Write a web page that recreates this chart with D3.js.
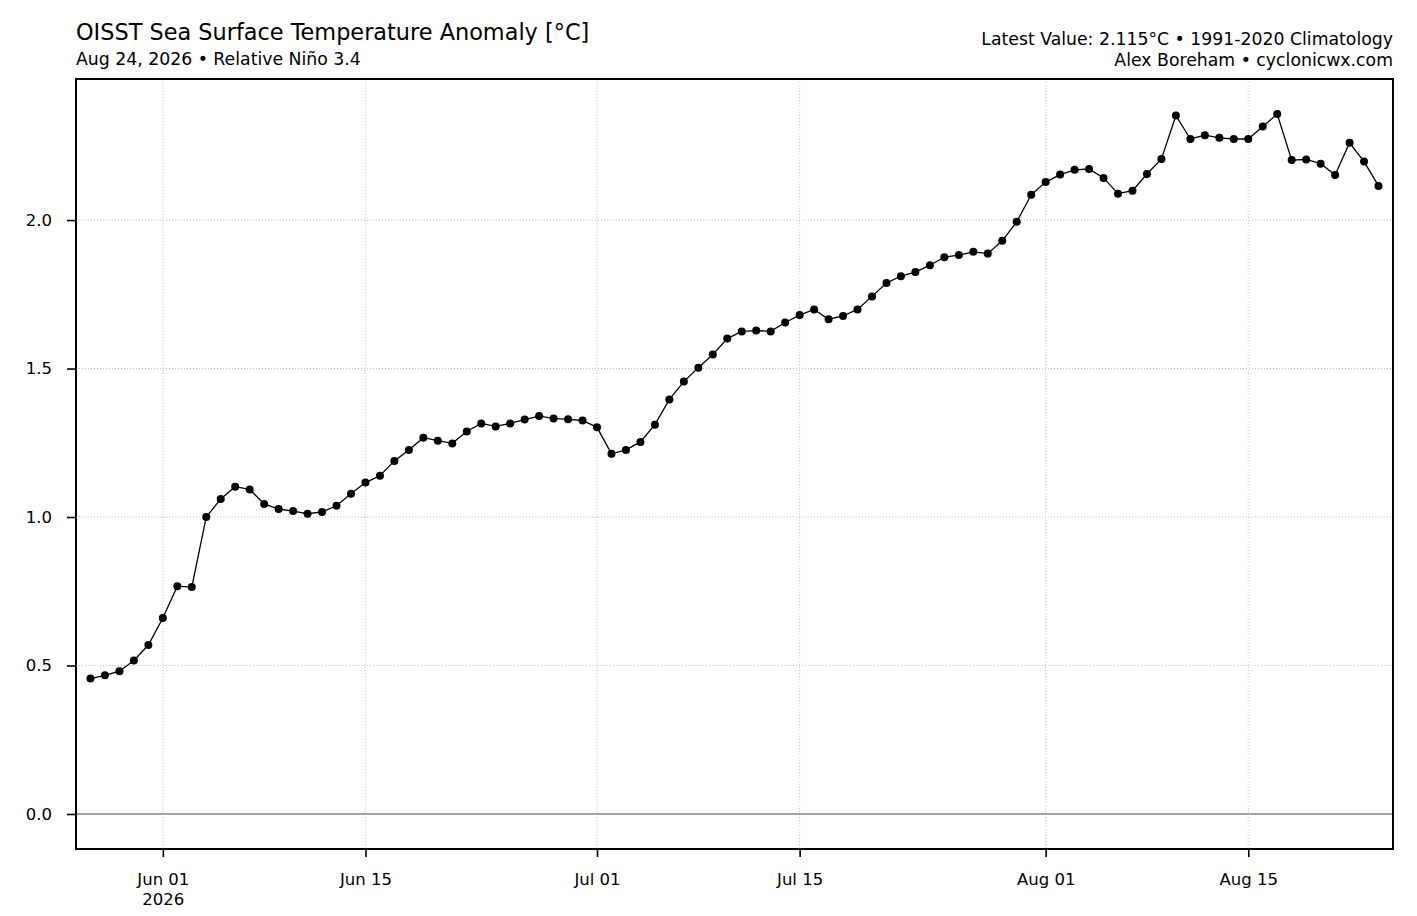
<!DOCTYPE html>
<html>
<head>
<meta charset="utf-8">
<script src="https://cdn.jsdelivr.net/npm/d3@7/dist/d3.min.js"></script>
<style>
	html, body { margin: 0; padding: 0; background: #fff; }
	svg { display: block; font-family: "DejaVu Sans", sans-serif; }
</style>
</head>
<body>
<div id="chart"></div>
<script>

// daily relative Niño 3.4 anomaly, starting May 27 2026
const START_DATE = '2026-05-27';
const ANOMALY = [
	0.456, 0.467, 0.481, 0.517, 0.569, 0.660, 0.767, 0.764, 1.000, 1.061,
	1.102, 1.093, 1.044, 1.027, 1.020, 1.011, 1.017, 1.038, 1.078, 1.116,
	1.139, 1.189, 1.226, 1.267, 1.257, 1.248, 1.288, 1.315, 1.305, 1.315,
	1.328, 1.340, 1.332, 1.329, 1.325, 1.302, 1.213, 1.226, 1.253, 1.311,
	1.396, 1.456, 1.503, 1.547, 1.601, 1.625, 1.628, 1.625, 1.655, 1.680,
	1.699, 1.666, 1.677, 1.699, 1.743, 1.788, 1.811, 1.825, 1.848, 1.875,
	1.882, 1.893, 1.887, 1.930, 1.994, 2.085, 2.128, 2.153, 2.169, 2.172,
	2.142, 2.089, 2.099, 2.155, 2.206, 2.352, 2.273, 2.286, 2.277, 2.273,
	2.273, 2.315, 2.357, 2.202, 2.204, 2.190, 2.152, 2.260, 2.197, 2.115
];

const X_TICKS = ['2026-06-01', '2026-06-15', '2026-07-01', '2026-07-15', '2026-08-01', '2026-08-15'];
const Y_TICKS = [0.0, 0.5, 1.0, 1.5, 2.0];
const X_LIMITS = ['2026-05-26', '2026-08-25'];
const Y_LIMITS = [-0.1179, 2.475];

const TITLE = 'OISST Sea Surface Temperature Anomaly [°C]';
const SUBTITLE = 'Aug 24, 2026 • Relative Niño 3.4';
const INFO_LINES = ['Latest Value: 2.115°C • 1991-2020 Climatology', 'Alex Boreham • cyclonicwx.com'];

let width = 1417,
	height = 916,
	margin = { top: 79, right: 24, bottom: 67, left: 76 },
	parseDate = d3.utcParse('%Y-%m-%d'),
	startDate = parseDate(START_DATE);

let data = ANOMALY.map((v, i) => ({
	date: d3.utcDay.offset(startDate, i),
	value: v
}));

let svg = d3.select('#chart').append('svg')
	.attr('width', width)
	.attr('height', height);

let x = d3.scaleUtc()
	.domain(X_LIMITS.map(parseDate))
	.range([margin.left, width - margin.right]);

let y = d3.scaleLinear()
	.domain(Y_LIMITS)
	.range([height - margin.bottom, margin.top]);

// dotted grid
let grid = svg.append('g')
	.attr('stroke', '#b0b0b0')
	.attr('stroke-width', 0.8)
	.attr('stroke-dasharray', '1 2');

grid.selectAll('line.gx')
	.data(X_TICKS.map(parseDate))
	.join('line')
	.attr('x1', d => x(d)).attr('x2', d => x(d))
	.attr('y1', margin.top).attr('y2', height - margin.bottom);

grid.selectAll('line.gy')
	.data(Y_TICKS)
	.join('line')
	.attr('x1', margin.left).attr('x2', width - margin.right)
	.attr('y1', d => y(d)).attr('y2', d => y(d));

// zero reference line
svg.append('line')
	.attr('x1', margin.left).attr('x2', width - margin.right)
	.attr('y1', y(0)).attr('y2', y(0))
	.attr('stroke', '#888')
	.attr('stroke-width', 1.4);

// series
let line = d3.line()
	.x(d => x(d.date))
	.y(d => y(d.value));

svg.append('path')
	.datum(data)
	.attr('d', line)
	.attr('fill', 'none')
	.attr('stroke', '#000')
	.attr('stroke-width', 1.3);

svg.append('g')
	.selectAll('circle')
	.data(data)
	.join('circle')
	.attr('cx', d => x(d.date))
	.attr('cy', d => y(d.value))
	.attr('r', 4)
	.attr('fill', '#000');

// axes
let xAxis = d3.axisBottom(x)
	.tickValues(X_TICKS.map(parseDate))
	.tickSize(8)
	.tickPadding(16)
	.tickFormat(d3.utcFormat('%b %d'));

let gx = svg.append('g')
	.attr('transform', 'translate(0,' + (height - margin.bottom) + ')')
	.call(xAxis);

// year on a second line under the first tick
gx.selectAll('.tick')
	.filter((d, i) => i === 0)
	.select('text')
	.append('tspan')
	.attr('x', 0)
	.attr('dy', '1.2em')
	.text(d3.utcFormat('%Y'));

let yAxis = d3.axisLeft(y)
	.tickValues(Y_TICKS)
	.tickSize(9)
	.tickPadding(15)
	.tickFormat(d3.format('.1f'));

let gy = svg.append('g')
	.attr('transform', 'translate(' + margin.left + ',0)')
	.call(yAxis);

[gx, gy].forEach(g => {
	g.select('.domain').remove();
	g.selectAll('.tick line').attr('stroke', '#000').attr('stroke-width', 1.6);
	g.selectAll('.tick text')
		.attr('fill', '#000')
		.style('font-size', '16.5px')
		.style('font-family', '"DejaVu Sans", sans-serif');
});

// frame
svg.append('rect')
	.attr('x', margin.left)
	.attr('y', margin.top)
	.attr('width', width - margin.left - margin.right)
	.attr('height', height - margin.top - margin.bottom)
	.attr('fill', 'none')
	.attr('stroke', '#000')
	.attr('stroke-width', 2);

// titles
svg.append('text')
	.attr('x', margin.left)
	.attr('y', 39.5)
	.style('font-size', '22.4px')
	.text(TITLE);

svg.append('text')
	.attr('x', margin.left)
	.attr('y', 65)
	.style('font-size', '17.3px')
	.text(SUBTITLE);

svg.append('g')
	.selectAll('text')
	.data(INFO_LINES)
	.join('text')
	.attr('x', width - margin.right)
	.attr('y', (d, i) => 44.5 + i * 21.5)
	.attr('text-anchor', 'end')
	.style('font-size', '17.3px')
	.text(d => d);

</script>
</body>
</html>
